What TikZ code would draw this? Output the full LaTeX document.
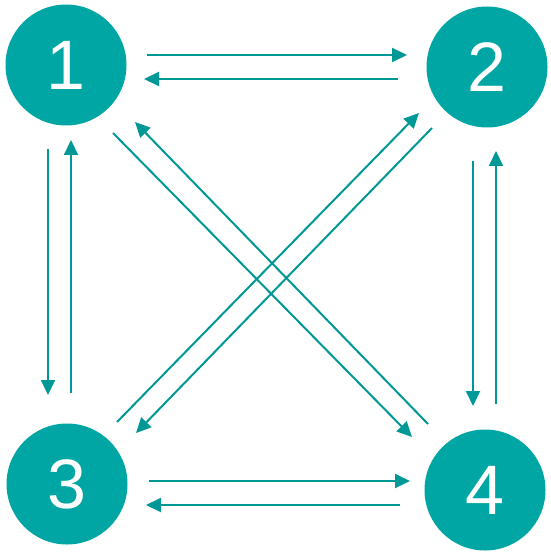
\documentclass[tikz,border=0pt]{standalone}
\usepackage{fontspec}
\setmainfont{Liberation Sans}
\usetikzlibrary{arrows.meta}
\definecolor{tealfill}{RGB}{0,166,164}
\definecolor{tealline}{RGB}{0,152,150}
\tikzset{
  statecircle/.style={circle,fill=tealfill,minimum size=121pt,inner sep=0pt,
    text=white,font=\fontsize{70}{70}\selectfont},
  trans/.style={-{Triangle[length=15pt,width=14pt]},line width=2pt,draw=tealline}
}

\begin{document}
\begin{tikzpicture}[x=1pt,y=-1pt]
\useasboundingbox (0,0) rectangle (550,553);

% States, one in each corner
\node[statecircle] (s1) at (66,65) {1};
\node[statecircle] (s2) at (487,67) {2};
\node[statecircle] (s3) at (67,484) {3};
\node[statecircle] (s4) at (485,490) {4};

% Transitions, each pair drawn as two parallel arrows
\foreach \a/\ax/\ay/\b/\bx/\by in {
s1/81/-10/s2/-80/-12, s2/-89/12/s1/78/14,
s1/-18/84/s3/-19/-89, s3/4/-91/s1/5/75,
s2/-14/94/s4/-12/-84, s4/11/-86/s2/9/84,
s3/82/-3/s4/-75/-9,   s4/-85/15/s3/79/21,
s1/47/68/s4/-73/-53,  s4/-57/-66/s1/69/57,
s3/50/-62/s2/-68/46,  s2/-55/61/s3/69/-51}
{
  \draw[trans] ([shift={(\ax,\ay)}]\a.center) -- ([shift={(\bx,\by)}]\b.center);
}

\end{tikzpicture}
\end{document}
